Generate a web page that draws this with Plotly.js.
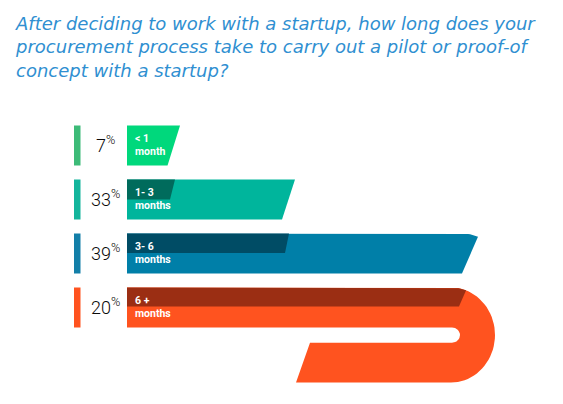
<!DOCTYPE html>
<html>
<head>
<meta charset="utf-8">
<script src="https://cdn.plot.ly/plotly-3.0.1.min.js"></script>
<style>html,body{margin:0;padding:0;background:#fff;}#chart{width:563px;height:404px;}</style>
</head>
<body>
<div id="chart"></div>
<script>
// ---- data ----
const categories = ['< 1 month', '1- 3 months', '3- 6 months', '6 + months'];
const periodLabels = ['< 1', '1- 3', '3- 6', '6 +'];
const unitLabels = ['month', 'months', 'months', 'months'];
const shares = [7, 33, 39, 20];

// ---- styles ----
const brightColors = ['#00d87c', '#00b59c', '#007fa8', '#ff531f'];
const darkColors = [null, '#006b5c', '#004c65', '#9b2e13'];
const markerColors = ['#3dbb78', '#14b59c', '#137fa8', '#ff531f'];
const titleColor = '#2f8fd1';

// ---- infographic geometry (pixel space of the 563x404 canvas) ----
const G = {left: 127, top0: 125.5, pitch: 54, h: 40, mL: 74, mR: 80.5};

function arc(cx, cy, rx, ry, a0, a1, n) {
  const p = [];
  for (let k = 0; k <= n; k++) {
    const a = (a0 + (a1 - a0) * k / n) * Math.PI / 180;
    p.push([cx + rx * Math.cos(a), cy + ry * Math.sin(a)]);
  }
  return p;
}

function barShape(i) {
  const t = G.top0 + i * G.pitch, b = t + G.h, L = G.left;
  if (i === 0) return [[L, t], [180, t], [167.5, b], [L, b]];
  if (i === 1) return [[L, t], [295, t], [282, b], [L, b]];
  if (i === 2) return [[L, t]].concat(arc(462, t + 47.5, 44, 47.5, -90, -68.7, 8), [[462, b], [L, b]]);
  // U-turn bar
  const gTop = b, gBot = t + 55.2;
  return [[L, t]]
    .concat(arc(451, t + 47.5, 44, 47.5, -90, 90, 40))
    .concat([[296, t + 95], [310, gBot]])
    .concat(arc(452, (gTop + gBot) / 2, 8, (gBot - gTop) / 2, 90, -90, 16))
    .concat([[L, gTop]]);
}

function darkShape(i) {
  const t = G.top0 + i * G.pitch, L = G.left;
  if (i === 1) return [[L, t], [175, t], [170, t + 20], [L, t + 20]];
  if (i === 2) return [[L, t], [289, t], [285, t + 19.5], [L, t + 19.5]];
  if (i === 3) return [[L, t]].concat(arc(451, t + 47.5, 44, 47.5, -90, -70, 8), [[459, t + 19], [L, t + 19]]);
  return null;
}

const traces = [];
function poly(pts, color, name) {
  const xs = pts.map(p => p[0]), ys = pts.map(p => p[1]);
  xs.push(pts[0][0]); ys.push(pts[0][1]);
  traces.push({type: 'scatter', mode: 'lines', x: xs, y: ys, fill: 'toself',
    fillcolor: color, line: {width: 0, color: color}, hoverinfo: 'skip', name: name, showlegend: false});
}

const annotations = [];
categories.forEach((cat, i) => {
  const t = G.top0 + i * G.pitch;
  poly([[G.mL, t], [G.mR, t], [G.mR, t + G.h], [G.mL, t + G.h]], markerColors[i], cat);
  poly(barShape(i), brightColors[i], cat);
  const d = darkShape(i);
  if (d) poly(d, darkColors[i], cat);
  annotations.push({x: 105, y: t + 18.5, xref: 'x', yref: 'y', xanchor: 'center', yanchor: 'middle',
    showarrow: false, text: shares[i] + '<sup>%</sup>',
    font: {family: 'Roboto', size: 18, weight: 300, color: '#0a0a0a'}});
  annotations.push({x: 133, y: t + 13, xref: 'x', yref: 'y', xanchor: 'left', yanchor: 'middle',
    showarrow: false, text: '<b>' + periodLabels[i].replace('<', '&lt;') + '</b>',
    font: {family: 'Roboto', size: 10.5, color: '#ffffff'}});
  annotations.push({x: 133, y: t + 25.5, xref: 'x', yref: 'y', xanchor: 'left', yanchor: 'middle',
    showarrow: false, text: '<b>' + unitLabels[i] + '</b>',
    font: {family: 'Roboto', size: 10.5, color: '#ffffff'}});
});

const layout = {
  width: 563, height: 404,
  margin: {l: 0, r: 0, t: 0, b: 0},
  paper_bgcolor: '#ffffff', plot_bgcolor: '#ffffff',
  title: {
    text: 'After deciding to work with a startup, how long does your<br>procurement process take to carry out a pilot or proof-of<br>concept with a startup?',
    x: 16 / 563, xanchor: 'left', xref: 'container',
    y: 1 - 30 / 404, yanchor: 'top', yref: 'container',
    font: {family: 'DejaVu Sans', size: 18, weight: 200, style: 'italic', color: titleColor}
  },
  xaxis: {range: [0, 563], visible: false, fixedrange: true},
  yaxis: {range: [404, 0], visible: false, fixedrange: true},
  showlegend: false,
  annotations: annotations
};

Plotly.newPlot('chart', traces, layout, {displayModeBar: false, staticPlot: true});
</script>
</body>
</html>
